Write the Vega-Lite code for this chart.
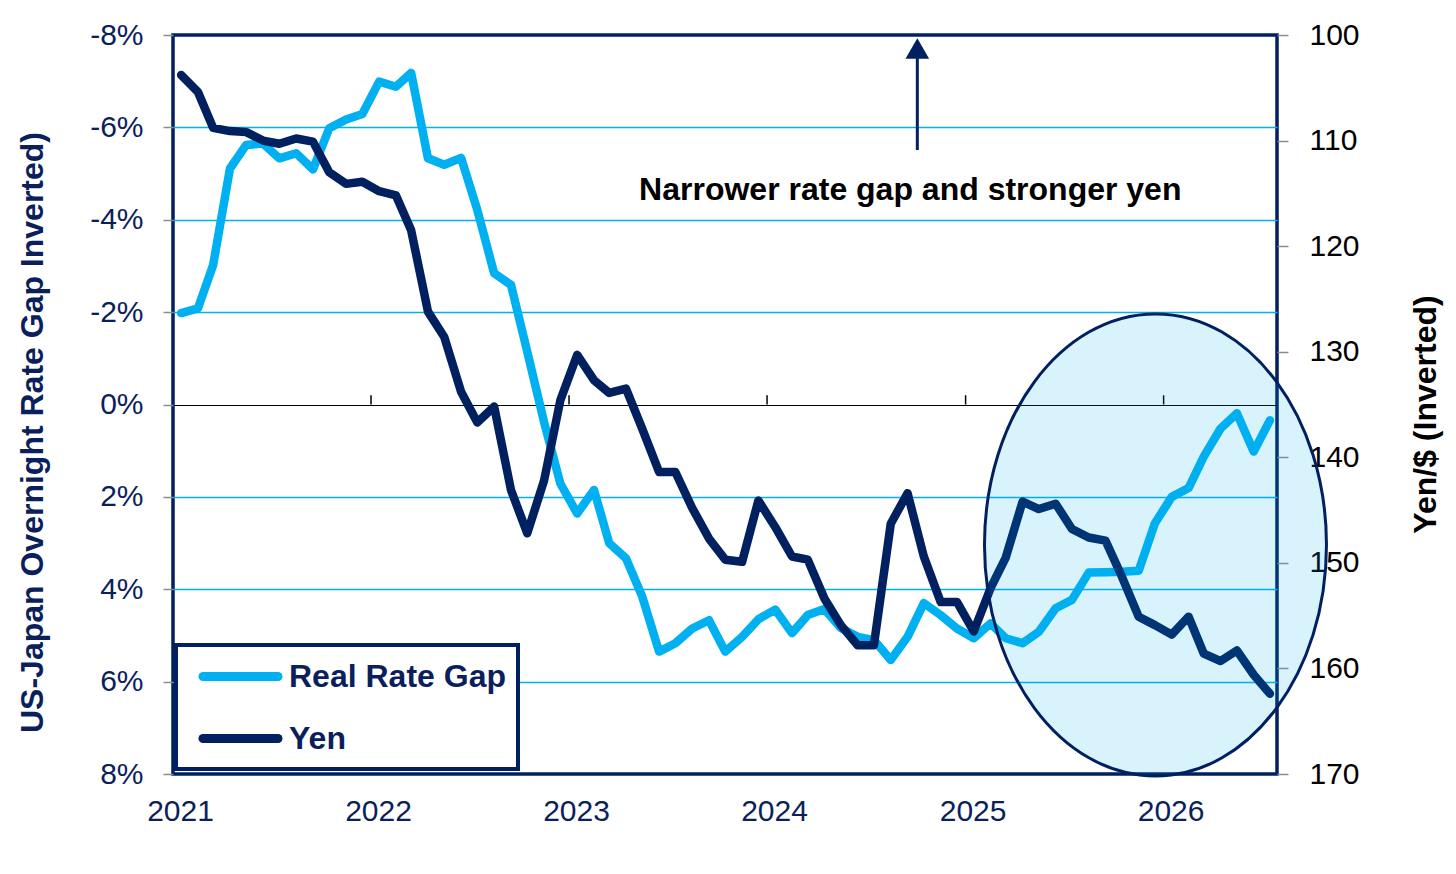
{
  "$schema": "https://vega.github.io/schema/vega-lite/v6.json",
  "width": 1104,
  "height": 739,
  "autosize": {"type": "none"},
  "padding": {"left": 173, "top": 35, "right": 179, "bottom": 100},
  "background": "white",
  "config": {
    "font": "Liberation Sans",
    "view": {"stroke": "#002060", "strokeWidth": 3.5}
  },
  "datasets": {
    "series": [
      {"date": "2021-01-16", "gap": -1.98, "yen": 103.8},
      {"date": "2021-02-16", "gap": -2.08, "yen": 105.4},
      {"date": "2021-03-16", "gap": -3.02, "yen": 108.8},
      {"date": "2021-04-16", "gap": -5.11, "yen": 109.1},
      {"date": "2021-05-16", "gap": -5.62, "yen": 109.2},
      {"date": "2021-06-16", "gap": -5.65, "yen": 110.0},
      {"date": "2021-07-16", "gap": -5.33, "yen": 110.3},
      {"date": "2021-08-16", "gap": -5.44, "yen": 109.8},
      {"date": "2021-09-16", "gap": -5.09, "yen": 110.1},
      {"date": "2021-10-16", "gap": -5.98, "yen": 113.0},
      {"date": "2021-11-16", "gap": -6.17, "yen": 114.1},
      {"date": "2021-12-16", "gap": -6.29, "yen": 113.9},
      {"date": "2022-01-16", "gap": -6.99, "yen": 114.8},
      {"date": "2022-02-16", "gap": -6.88, "yen": 115.2},
      {"date": "2022-03-16", "gap": -7.18, "yen": 118.5},
      {"date": "2022-04-16", "gap": -5.33, "yen": 126.2},
      {"date": "2022-05-16", "gap": -5.19, "yen": 128.6},
      {"date": "2022-06-16", "gap": -5.34, "yen": 133.8},
      {"date": "2022-07-16", "gap": -4.21, "yen": 136.7},
      {"date": "2022-08-16", "gap": -2.84, "yen": 135.2},
      {"date": "2022-09-16", "gap": -2.59, "yen": 143.1},
      {"date": "2022-10-16", "gap": -1.14, "yen": 147.2},
      {"date": "2022-11-16", "gap": 0.38, "yen": 142.2},
      {"date": "2022-12-16", "gap": 1.71, "yen": 134.6},
      {"date": "2023-01-16", "gap": 2.36, "yen": 130.3},
      {"date": "2023-02-16", "gap": 1.85, "yen": 132.7},
      {"date": "2023-03-16", "gap": 3.0, "yen": 133.9},
      {"date": "2023-04-16", "gap": 3.33, "yen": 133.5},
      {"date": "2023-05-16", "gap": 4.16, "yen": 137.3},
      {"date": "2023-06-16", "gap": 5.35, "yen": 141.4},
      {"date": "2023-07-16", "gap": 5.17, "yen": 141.4},
      {"date": "2023-08-16", "gap": 4.85, "yen": 144.8},
      {"date": "2023-09-16", "gap": 4.67, "yen": 147.7},
      {"date": "2023-10-16", "gap": 5.35, "yen": 149.7},
      {"date": "2023-11-16", "gap": 5.03, "yen": 149.9},
      {"date": "2023-12-16", "gap": 4.65, "yen": 144.1},
      {"date": "2024-01-16", "gap": 4.44, "yen": 146.6},
      {"date": "2024-02-16", "gap": 4.95, "yen": 149.4},
      {"date": "2024-03-16", "gap": 4.56, "yen": 149.7},
      {"date": "2024-04-16", "gap": 4.43, "yen": 153.4},
      {"date": "2024-05-16", "gap": 4.84, "yen": 155.9},
      {"date": "2024-06-16", "gap": 5.03, "yen": 157.8},
      {"date": "2024-07-16", "gap": 5.1, "yen": 157.8},
      {"date": "2024-08-16", "gap": 5.53, "yen": 146.3},
      {"date": "2024-09-16", "gap": 5.03, "yen": 143.4},
      {"date": "2024-10-16", "gap": 4.3, "yen": 149.4},
      {"date": "2024-11-16", "gap": 4.56, "yen": 153.7},
      {"date": "2024-12-16", "gap": 4.85, "yen": 153.7},
      {"date": "2025-01-16", "gap": 5.06, "yen": 156.5},
      {"date": "2025-02-16", "gap": 4.74, "yen": 152.4},
      {"date": "2025-03-16", "gap": 5.06, "yen": 149.5},
      {"date": "2025-04-16", "gap": 5.17, "yen": 144.2},
      {"date": "2025-05-16", "gap": 4.92, "yen": 144.9},
      {"date": "2025-06-16", "gap": 4.41, "yen": 144.4},
      {"date": "2025-07-16", "gap": 4.23, "yen": 146.8},
      {"date": "2025-08-16", "gap": 3.64, "yen": 147.6},
      {"date": "2025-09-16", "gap": 3.63, "yen": 147.9},
      {"date": "2025-10-16", "gap": 3.62, "yen": 151.3},
      {"date": "2025-11-16", "gap": 3.6, "yen": 155.1},
      {"date": "2025-12-16", "gap": 2.57, "yen": 155.9},
      {"date": "2026-01-16", "gap": 2.0, "yen": 156.8},
      {"date": "2026-02-16", "gap": 1.81, "yen": 155.1},
      {"date": "2026-03-16", "gap": 1.13, "yen": 158.6},
      {"date": "2026-04-16", "gap": 0.52, "yen": 159.3},
      {"date": "2026-05-16", "gap": 0.19, "yen": 158.3},
      {"date": "2026-06-16", "gap": 1.02, "yen": 160.6},
      {"date": "2026-07-16", "gap": 0.34, "yen": 162.4}
    ],
    "yearTicks": [
      {"date": "2022-01-01"},
      {"date": "2023-01-01"},
      {"date": "2024-01-01"},
      {"date": "2025-01-01"},
      {"date": "2026-01-01"}
    ],
    "circled": [{"date": "2025-12-17", "gap": 3.04}],
    "arrow": [{"date": "2024-10-04"}],
    "note": [{"date": "2024-09-21", "note": "Narrower rate gap and stronger yen"}]
  },
  "encoding": {
    "x": {
      "field": "date",
      "type": "temporal",
      "scale": {
        "type": "utc",
        "domain": [
          {"year": 2021, "month": 1, "date": 1, "utc": true},
          {"year": 2026, "month": 7, "date": 29, "utc": true}
        ]
      },
      "axis": {
        "title": null,
        "orient": "bottom",
        "values": [
          {"year": 2021, "month": 1, "date": 1, "utc": true},
          {"year": 2022, "month": 1, "date": 1, "utc": true},
          {"year": 2023, "month": 1, "date": 1, "utc": true},
          {"year": 2024, "month": 1, "date": 1, "utc": true},
          {"year": 2025, "month": 1, "date": 1, "utc": true},
          {"year": 2026, "month": 1, "date": 1, "utc": true}
        ],
        "format": "%Y",
        "grid": false,
        "ticks": false,
        "domain": false,
        "labelFlush": false,
        "labelOffset": 7,
        "labelPadding": 22,
        "labelFontSize": 30,
        "labelColor": "#0B1F5C",
        "labelFont": "Liberation Sans"
      }
    }
  },
  "layer": [
    {
      "data": {"name": "series"},
      "mark": {"type": "line", "strokeWidth": 8.5, "strokeJoin": "round", "strokeCap": "round"},
      "encoding": {
        "y": {
          "field": "gap",
          "type": "quantitative",
          "scale": {"domain": [-8, 8], "reverse": true, "nice": false, "zero": false},
          "axis": {
            "orient": "left",
            "values": [-8, -6, -4, -2, 0, 2, 4, 6, 8],
            "labelExpr": "datum.value + '%'",
            "labelFontSize": 30,
            "labelColor": "#0B1F5C",
            "labelFont": "Liberation Sans",
            "labelPadding": 20,
            "tickSize": 10,
            "tickWidth": 1.5,
            "tickColor": "#8C8C8C",
            "domain": false,
            "grid": true,
            "gridColor": {"condition": {"test": "datum.value === 0", "value": "#000000"}, "value": "#00B0F0"},
            "gridOpacity": {"condition": {"test": "abs(datum.value) === 8", "value": 0}, "value": 1},
            "gridWidth": {"condition": {"test": "datum.value === 0", "value": 1.2}, "value": 1.6},
            "title": "US-Japan Overnight Rate Gap Inverted)",
            "titleFont": "Liberation Sans",
            "titleFontSize": 32,
            "titleFontWeight": "bold",
            "titleColor": "#0B1F5C",
            "titleAngle": 270,
            "titleAlign": "center",
            "titleBaseline": "middle",
            "titleX": -141,
            "titleY": 397
          }
        },
        "color": {
          "datum": "Real Rate Gap",
          "type": "nominal",
          "scale": {"domain": ["Real Rate Gap", "Yen"], "range": ["#00B0F0", "#002060"]},
          "legend": {
            "title": null,
            "orient": "none",
            "legendX": 3,
            "legendY": 610,
            "symbolType": "M-2.5,0H2.5",
            "symbolSize": 900,
            "symbolStrokeWidth": 9,
            "symbolOffset": 33,
            "labelOffset": 29,
            "labelLimit": 400,
            "labelFont": "Liberation Sans",
            "labelFontSize": 32,
            "labelFontWeight": "bold",
            "labelColor": "#0B1F5C",
            "rowPadding": 24,
            "padding": 12,
            "fillColor": "white",
            "strokeColor": "#002060",
            "encode": {
              "legend": {"update": {"strokeWidth": {"value": 4}}},
              "symbols": {"update": {"strokeCap": {"value": "round"}}}
            }
          }
        }
      }
    },
    {
      "data": {"name": "yearTicks"},
      "mark": {"type": "rule", "color": "#000000", "strokeWidth": 1.5},
      "encoding": {
        "y": {"datum": 0, "type": "quantitative", "scale": {"domain": [-8, 8], "reverse": true, "nice": false, "zero": false}, "axis": null},
        "y2": {"datum": -0.2}
      }
    },
    {
      "data": {"name": "series"},
      "mark": {"type": "line", "strokeWidth": 8.5, "strokeJoin": "round", "strokeCap": "round"},
      "encoding": {
        "y": {
          "field": "yen",
          "type": "quantitative",
          "scale": {"domain": [100, 170], "reverse": true, "nice": false, "zero": false},
          "axis": {
            "orient": "right",
            "values": [100, 110, 120, 130, 140, 150, 160, 170],
            "labelFontSize": 30,
            "labelColor": "#000000",
            "labelFont": "Liberation Sans",
            "labelPadding": 21,
            "tickSize": 11,
            "tickWidth": 1.5,
            "tickColor": "#8C8C8C",
            "domain": false,
            "grid": false,
            "title": "Yen/$ (Inverted)",
            "titleFont": "Liberation Sans",
            "titleFontSize": 32,
            "titleFontWeight": "bold",
            "titleColor": "#000000",
            "titleAngle": 270,
            "titleAlign": "center",
            "titleBaseline": "middle",
            "titleX": 148,
            "titleY": 379
          }
        },
        "color": {"datum": "Yen", "type": "nominal"}
      }
    },
    {
      "data": {"name": "circled"},
      "mark": {
        "type": "point",
        "shape": "M1,0C1,0.7462,0.5523,1.351,0,1.351C-0.5523,1.351,-1,0.7462,-1,0C-1,-0.7462,-0.5523,-1.351,0,-1.351C0.5523,-1.351,1,-0.7462,1,0Z",
        "size": 116964,
        "filled": true,
        "fill": "#00B0F0",
        "fillOpacity": 0.15,
        "stroke": "#002060",
        "strokeWidth": 3,
        "opacity": 1
      },
      "encoding": {
        "y": {"field": "gap", "type": "quantitative", "scale": {"domain": [-8, 8], "reverse": true, "nice": false, "zero": false}, "axis": null}
      }
    },
    {
      "data": {"name": "arrow"},
      "mark": {"type": "rule", "color": "#002060", "strokeWidth": 3},
      "encoding": {
        "y": {"datum": -5.51, "type": "quantitative", "scale": {"domain": [-8, 8], "reverse": true, "nice": false, "zero": false}, "axis": null},
        "y2": {"datum": -7.5}
      }
    },
    {
      "data": {"name": "arrow"},
      "mark": {"type": "point", "shape": "triangle-up", "size": 560, "filled": true, "color": "#002060", "opacity": 1},
      "encoding": {
        "y": {"datum": -7.71, "type": "quantitative", "scale": {"domain": [-8, 8], "reverse": true, "nice": false, "zero": false}, "axis": null}
      }
    },
    {
      "data": {"name": "note"},
      "mark": {"type": "text", "font": "Liberation Sans", "fontSize": 32, "fontWeight": "bold", "color": "#000000", "align": "center", "baseline": "middle"},
      "encoding": {
        "y": {"datum": -4.64, "type": "quantitative", "scale": {"domain": [-8, 8], "reverse": true, "nice": false, "zero": false}, "axis": null},
        "text": {"field": "note"}
      }
    }
  ],
  "resolve": {"scale": {"y": "independent"}}
}
